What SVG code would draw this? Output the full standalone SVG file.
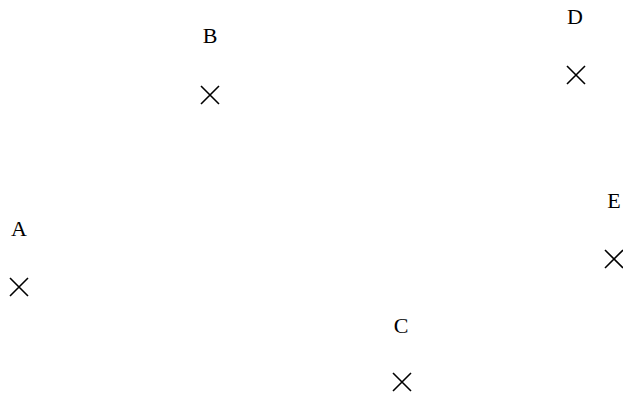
<svg xmlns="http://www.w3.org/2000/svg" width="623" height="398" viewBox="0 0 623 398">
<style>
.lbl{font-family:"Liberation Serif","Times New Roman",serif;font-size:22px;fill:#000;text-anchor:middle}
.x{stroke:#000;stroke-width:1.6;fill:none}
</style>
<defs>
<path id="cross" class="x" d="M-9,-9L9,9M-9,9L9,-9"/>
</defs>
<rect width="623" height="398" fill="#fff"/>
<g id="A"><text class="lbl" x="19" y="236">A</text><use href="#cross" x="19" y="287"/></g>
<g id="B"><text class="lbl" x="210" y="43">B</text><use href="#cross" x="210" y="95"/></g>
<g id="C"><text class="lbl" x="401" y="333">C</text><use href="#cross" x="402" y="382"/></g>
<g id="D"><text class="lbl" x="575" y="24">D</text><use href="#cross" x="576" y="75"/></g>
<g id="E"><text class="lbl" x="614" y="208">E</text><use href="#cross" x="614" y="259"/></g>
<g id="connectors"></g>
</svg>
